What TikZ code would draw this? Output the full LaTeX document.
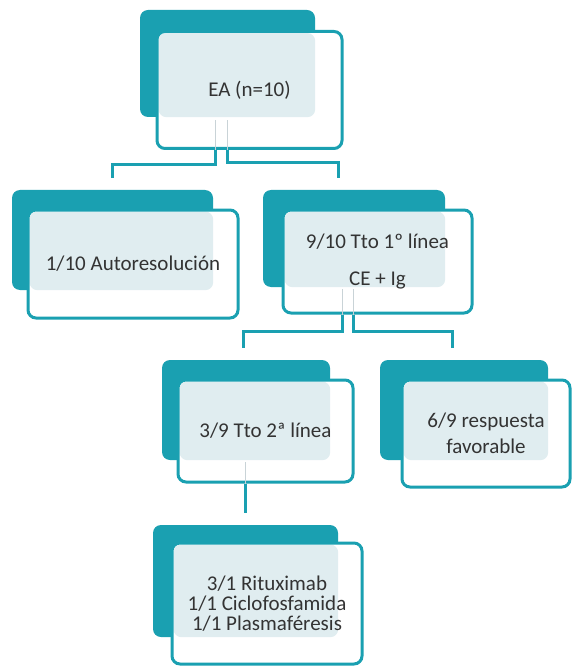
\documentclass[tikz,border=0pt]{standalone}
\usepackage{fontspec}
\setmainfont{Carlito}
\usetikzlibrary{positioning}
\definecolor{tealbox}{HTML}{1AA0B1}
\definecolor{paleblue}{HTML}{E0EDF0}
\definecolor{inkgray}{HTML}{333333}
\definecolor{seamgray}{HTML}{C9D3D7}

\begin{document}
\begin{tikzpicture}[x=1pt,y=-1pt,
    back node/.style={rectangle,rounded corners=8pt,fill=tealbox,inner sep=0pt},
    card node/.style={rectangle,rounded corners=8pt,draw=tealbox,line width=3pt,fill=white,
      inner sep=0pt,align=center,text=inkgray,font=\fontsize{21}{24}\selectfont},
    shade on/.style={path picture={\fill[paleblue] ([xshift=1.5pt,yshift=-1.5pt]path picture bounding box.north west) rectangle (#1.south east);}},
    link/.style={draw=tealbox,line width=3pt},
    seam/.style={draw=seamgray,line width=1pt}]
  \useasboundingbox (0,0) rectangle (572,668);

  % level 0
  \node[back node,minimum width=175pt,minimum height=107pt] (eab) at (227.5,63.5) {};
  \node[card node,shade on=eab,minimum width=185pt,minimum height=117pt] (ea) at (249.5,90) {EA (n=10)};

  % level 1
  \node[back node,minimum width=201pt,minimum height=100pt] (autob) at (112.5,240) {};
  \node[card node,shade on=autob,minimum width=210pt,minimum height=108pt] (auto) at (133,264) {1/10 Autoresolución};

  \node[back node,minimum width=182pt,minimum height=97pt] (tto1b) at (354,238.5) {};
  \node[card node,shade on=tto1b,minimum width=189pt,minimum height=103pt] (tto1) at (377.5,261.5) {9/10 Tto 1º línea\\[13pt]CE + Ig};

  % level 2
  \node[back node,minimum width=168pt,minimum height=100pt] (tto2b) at (246,410) {};
  \node[card node,shade on=tto2b,minimum width=175pt,minimum height=102pt] (tto2) at (265.5,431) {3/9 Tto 2ª línea};

  \node[back node,minimum width=168pt,minimum height=100pt] (respb) at (464,410) {};
  \node[card node,shade on=respb,minimum width=168pt,minimum height=107pt] (resp) at (486,433.5) {6/9 respuesta\\[2pt]favorable};

  % level 3
  \node[back node,minimum width=185pt,minimum height=112pt] (rituxb) at (245.5,581) {};
  \node[card node,shade on=rituxb,minimum width=190pt,minimum height=121pt] (ritux) at (267,603.5) {3/1 Rituximab\\[-4pt]1/1 Ciclofosfamida\\[-4pt]1/1 Plasmaféresis};

  % connectors
  \draw[seam] ([xshift=-34.5pt]ea.south) -- ++(0,-30);
  \draw[seam] ([xshift=-22.5pt]ea.south) -- ++(0,-30);
  \draw[link] ([xshift=-34.5pt]ea.south) -- ++(0,15) -| ([yshift=12pt]autob.north);
  \draw[link] ([xshift=-22.5pt]ea.south) -- ++(0,13) -| ([xshift=-16pt,yshift=12pt]tto1b.north);

  \draw[seam] ([xshift=-35.5pt]tto1.south) -- ++(0,-26);
  \draw[seam] ([xshift=-24.5pt]tto1.south) -- ++(0,-26);
  \draw[link] ([xshift=-35.5pt]tto1.south) -- ++(0,17) -| ([xshift=-3pt,yshift=12pt]tto2b.north);
  \draw[link] ([xshift=-24.5pt]tto1.south) -- ++(0,17) -| ([xshift=-12pt,yshift=12pt]respb.north);

  \draw[seam] ([xshift=-20pt]tto2.south) -- ++(0,-22);
  \draw[link] ([xshift=-20pt]tto2.south) -- ([yshift=12pt]rituxb.north);
\end{tikzpicture}
\end{document}
